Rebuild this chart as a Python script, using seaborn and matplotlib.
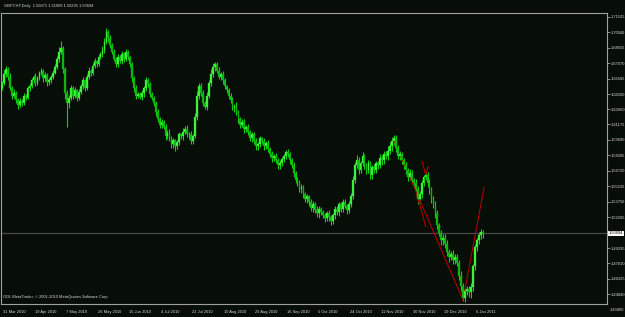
import matplotlib
matplotlib.use("Agg")
import matplotlib.pyplot as plt
import matplotlib.transforms as mtransforms
import numpy as np
import pandas as pd
import seaborn as sns

# ---------------- data ----------------
symbol_title = "GBPCHF,Daily  1.50871 1.51009 1.50295 1.50694"
copyright_text = "ODL MetaTrader, \u00a9 2001-2010 MetaQuotes Software Corp."

first_open = 1.6470
closes = [
    1.6513, 1.6606, 1.6652, 1.6578, 1.6467,
    1.6393, 1.6420, 1.6356, 1.6309, 1.6346,
    1.6328, 1.6393, 1.6374, 1.6467, 1.6485,
    1.6541, 1.6578, 1.6513, 1.6560, 1.6615,
    1.6633, 1.6560, 1.6596, 1.6522, 1.6541,
    1.6578, 1.6615, 1.6670, 1.6745, 1.6819,
    1.6856, 1.6652, 1.6420, 1.6328, 1.6374,
    1.6467, 1.6393, 1.6448, 1.6374, 1.6430,
    1.6485, 1.6541, 1.6467, 1.6578, 1.6633,
    1.6615, 1.6680, 1.6726, 1.6698, 1.6763,
    1.6791, 1.6837, 1.6911, 1.7004, 1.6949,
    1.6884, 1.6819, 1.6745, 1.6698, 1.6763,
    1.6726, 1.6791, 1.6745, 1.6810, 1.6763,
    1.6698, 1.6560, 1.6467, 1.6393, 1.6411,
    1.6383, 1.6420, 1.6467, 1.6541, 1.6504,
    1.6411, 1.6374, 1.6328, 1.6235, 1.6170,
    1.6114, 1.6142, 1.6096, 1.6004, 1.6040,
    1.5985, 1.5929, 1.5966, 1.5911, 1.5948,
    1.6022, 1.6004, 1.6050, 1.6077, 1.6022,
    1.6022, 1.5957, 1.6004, 1.6189, 1.6393,
    1.6485, 1.6420, 1.6328, 1.6282, 1.6393,
    1.6513, 1.6606, 1.6670, 1.6698, 1.6633,
    1.6578, 1.6606, 1.6541, 1.6485, 1.6448,
    1.6393, 1.6356, 1.6282, 1.6300, 1.6235,
    1.6170, 1.6114, 1.6142, 1.6077, 1.6096,
    1.6050, 1.5985, 1.6022, 1.5957, 1.5911,
    1.5929, 1.5985, 1.5957, 1.5911, 1.5939,
    1.5883, 1.5837, 1.5800, 1.5818, 1.5772,
    1.5726, 1.5744, 1.5781, 1.5818, 1.5855,
    1.5837, 1.5772, 1.5726, 1.5651, 1.5586,
    1.5558, 1.5494, 1.5521, 1.5448, 1.5401,
    1.5429, 1.5373, 1.5317, 1.5355, 1.5299,
    1.5262, 1.5308, 1.5280, 1.5243, 1.5215,
    1.5262, 1.5225, 1.5188, 1.5243, 1.5308,
    1.5280, 1.5355, 1.5308, 1.5373, 1.5336,
    1.5299, 1.5355, 1.5429, 1.5586, 1.5726,
    1.5772, 1.5679, 1.5744, 1.5818, 1.5726,
    1.5679, 1.5744, 1.5633, 1.5707, 1.5679,
    1.5744, 1.5726, 1.5800, 1.5772, 1.5837,
    1.5818, 1.5864, 1.5911, 1.5957, 1.5985,
    1.5892, 1.5818, 1.5837, 1.5772, 1.5726,
    1.5679, 1.5614, 1.5651, 1.5586, 1.5558,
    1.5494, 1.5401, 1.5448, 1.5558, 1.5614,
    1.5633, 1.5558, 1.5494, 1.5401, 1.5355,
    1.5262, 1.5150, 1.5077, 1.5002, 1.5030,
    1.4965, 1.4892, 1.4846, 1.4873, 1.4818,
    1.4846, 1.4781, 1.4660, 1.4566, 1.4446,
    1.4521, 1.4539, 1.4502, 1.4557, 1.4752,
    1.4937, 1.5002, 1.5050, 1.50871, 1.50694,
]

upper_wick_pips = [
    20, 35, 25, 15, 30, 25, 40, 15, 20, 30, 15, 30, 20, 25, 35,
    20, 15, 30, 25, 20, 30, 20, 25, 15, 25, 20, 30, 25, 35, 40,
    60, 20, 15, 25, 30, 35, 20, 30, 15, 25, 20, 30, 15, 25, 35,
    20, 25, 30, 15, 30, 25, 35, 40, 45, 20, 30, 15, 25, 20, 30,
    25, 30, 20, 35, 25, 15, 20, 25, 30, 20, 20, 30, 25, 35, 20,
    25, 20, 15, 20, 30, 20, 25, 15, 30, 20, 30, 20, 25, 15, 25,
    20, 15, 30, 25, 35, 25, 30, 20, 40, 50, 35, 30, 25, 20, 40,
    30, 45, 40, 25, 20, 35, 20, 30, 25, 15, 20, 30, 25, 15, 30,
    25, 20, 30, 25, 20, 30, 15, 25, 20, 30, 20, 25, 15, 30, 20,
    25, 20, 30, 15, 25, 20, 30, 25, 20, 15, 30, 20, 25, 30, 20,
    25, 30, 20, 15, 25, 20, 15, 30, 25, 20, 30, 25, 20, 15, 25,
    20, 30, 25, 20, 30, 25, 20, 15, 30, 25, 20, 25, 30, 40, 35,
    50, 30, 25, 35, 20, 25, 30, 20, 25, 35, 20, 25, 30, 20, 25,
    30, 45, 35, 40, 30, 35, 25, 30, 20, 25, 30, 20, 35, 25, 20,
    40, 35, 30, 25, 20, 30, 25, 35, 20, 25, 25, 30, 20, 25, 30,
    35, 40, 30, 25, 40, 30, 25, 35, 45, 30, 20, 25, 30, 35, 25,
    30, 20, 35, 25, 14,
]

lower_wick_pips = [
    25, 20, 30, 35, 20, 30, 25, 35, 40, 25, 30, 20, 25, 15, 30,
    20, 25, 30, 20, 15, 25, 30, 20, 35, 25, 20, 25, 15, 20, 25,
    20, 40, 60, 230, 50, 25, 30, 20, 35, 25, 20, 25, 30, 20, 25,
    30, 20, 15, 25, 20, 20, 25, 30, 20, 35, 30, 25, 20, 30, 25,
    20, 30, 25, 20, 25, 30, 35, 40, 30, 25, 25, 30, 35, 25, 30,
    30, 25, 35, 40, 30, 35, 30, 25, 40, 30, 30, 35, 40, 45, 25,
    30, 25, 35, 20, 25, 40, 30, 25, 20, 25, 30, 25, 35, 20, 25,
    20, 25, 30, 35, 20, 25, 30, 35, 25, 30, 30, 35, 25, 40, 30,
    35, 30, 25, 40, 35, 30, 25, 35, 30, 40, 35, 30, 25, 40, 30,
    30, 35, 40, 30, 25, 35, 40, 30, 25, 35, 30, 35, 25, 40, 30,
    35, 30, 40, 35, 25, 40, 35, 30, 45, 30, 35, 40, 30, 25, 35,
    30, 35, 40, 30, 35, 30, 40, 35, 30, 25, 40, 30, 35, 25, 30,
    30, 35, 25, 30, 40, 35, 30, 40, 35, 30, 30, 35, 25, 40, 30,
    35, 40, 30, 45, 35, 40, 35, 45, 30, 40, 35, 40, 30, 45, 35,
    40, 45, 35, 40, 30, 35, 40, 45, 35, 40, 40, 35, 30, 45, 40,
    35, 40, 50, 35, 45, 40, 20, 35, 45, 30, 35, 40, 45, 50, 40,
    35, 40, 30, 35, 40,
]

date_labels = ["31 Mar 2010", "19 Apr 2010", "7 May 2010", "26 May 2010",
               "15 Jun 2010", "4 Jul 2010", "22 Jul 2010", "10 Aug 2010",
               "29 Aug 2010", "16 Sep 2010", "5 Oct 2010", "24 Oct 2010",
               "11 Nov 2010", "30 Nov 2010", "19 Dec 2010", "6 Jan 2011"]
date_bar_index = [0, 16, 32, 48, 64, 80, 96, 112, 128, 144, 160, 176,
                  192, 208, 224, 240]

price_ticks = [1.71525, 1.70040, 1.68555, 1.67070, 1.65585, 1.64100,
               1.62660, 1.61175, 1.59690, 1.58205, 1.56720, 1.55235,
               1.53750, 1.52265, 1.49295, 1.47810, 1.46325, 1.44840]
bottom_price_label = "1.43400"
current_price = 1.50694

# hand-drawn red objects on the chart (bar index, price)
line1_bar = [198.5, 234.0]
line1_price = [1.5985, 1.4430]
line2_bar = [234.0, 244.7]
line2_price = [1.4430, 1.5512]
line3_bar = [213.2, 215.1, 216.4]
line3_price = [1.5763, 1.5633, 1.5716]
line4_bar = [210.2, 212.2, 215.1]
line4_price = [1.5448, 1.5336, 1.5133]

# ---------------- build table ----------------
opens = [first_open] + closes[:-1]
df = pd.DataFrame({"open": opens, "close": closes,
                   "up": upper_wick_pips, "dn": lower_wick_pips})
df["bar"] = np.arange(len(df), dtype=float)
df["high"] = df[["open", "close"]].max(axis=1) + df["up"] / 10000.0
df["low"] = df[["open", "close"]].min(axis=1) - df["dn"] / 10000.0
df["bull"] = df["close"] >= df["open"]
df["body_bottom"] = df[["open", "close"]].min(axis=1)
df["body_h"] = (df["close"] - df["open"]).abs().clip(lower=0.00025)

# ---------------- style ----------------
BG = "#070d07"
FG = "#d8d8d8"
BORDER = "#a0a0a0"
UP_BODY = "#3cf03c"
DN_BODY = "#10b410"
WICK = "#10d010"
sns.set_theme(style="dark", rc={
    "axes.facecolor": BG, "figure.facecolor": BG,
    "axes.edgecolor": BORDER, "axes.grid": False,
    "xtick.color": BORDER, "ytick.color": BORDER,
    "text.color": FG,
    "patch.force_edgecolor": False, "patch.edgecolor": "none",
})
plt.rcParams["font.family"] = ["Liberation Sans", "DejaVu Sans"]
FS = 2.9

W, H = 625, 317
fig = plt.figure(figsize=(W / 100, H / 100), dpi=100)
ax = fig.add_axes([1 / W, 13 / H, 606 / W, 291 / H])
ax.set_facecolor(BG)

ax.set_xlim(-0.5, 307.1)
ax.set_ylim(1.43912, 1.71896)

# current price line
ax.axhline(current_price, color="#4a4a4a", lw=0.9, zorder=0.5)

# candles: wicks
xb = df["bar"].to_numpy()
ax.vlines(xb, df["low"].to_numpy(), df["high"].to_numpy(),
          colors=[WICK] * len(df), linewidths=0.8, zorder=2)

# red drawn objects (between wicks and bodies)
for bx, py in [(line1_bar, line1_price), (line2_bar, line2_price),
               (line3_bar, line3_price), (line4_bar, line4_price)]:
    sns.lineplot(x=bx, y=py, ax=ax, color="#b00000", lw=0.8,
                 sort=False, estimator=None, zorder=2.5, legend=False)

# candles: bodies
body_colors = [UP_BODY if b else DN_BODY for b in df["bull"]]
ax.bar(xb, df["body_h"].to_numpy(), bottom=df["body_bottom"].to_numpy(),
       width=0.9, color=body_colors, edgecolor=body_colors, linewidth=0.2,
       zorder=3)

# axes decoration
for s in ax.spines.values():
    s.set_color(BORDER)
    s.set_linewidth(0.8)
    s.set_visible(True)

ax.yaxis.tick_right()
ax.set_yticks(price_ticks)
ax.set_yticklabels([f"{v:.5f}" for v in price_ticks])
ax.tick_params(axis="y", which="both", direction="out", length=2, width=0.6,
               pad=1.0, labelsize=FS, labelcolor=FG, colors=BORDER)

ax.set_xticks([b - 0.5 for b in date_bar_index])
ax.set_xticklabels(date_labels)
ax.tick_params(axis="x", which="both", direction="out", length=4, width=0.6,
               pad=0.3, labelsize=FS, labelcolor=FG, colors=BORDER)
offset = mtransforms.ScaledTranslation(2 / 100, 0.0, fig.dpi_scale_trans)
for lab in ax.get_xticklabels():
    lab.set_horizontalalignment("left")
    lab.set_transform(lab.get_transform() + offset)

# current price label box
trans_y = mtransforms.blended_transform_factory(ax.transAxes, ax.transData)
ax.text(1.003, current_price, f"{current_price:.5f}", transform=trans_y,
        ha="left", va="center", fontsize=FS, color="black",
        bbox=dict(boxstyle="square,pad=0.12", fc="white", ec="white", lw=0),
        clip_on=False, zorder=10)
ax.text(1.0045, 1.43356, bottom_price_label, transform=trans_y,
        ha="left", va="center", fontsize=FS, color=FG, clip_on=False)

# header and copyright
fig.text(4 / W, 1 - 6.5 / H, symbol_title, fontsize=FS, color=FG,
         ha="left", va="center")
ax.text(0.004, 0.025, copyright_text, transform=ax.transAxes,
        fontsize=FS, color=FG, ha="left", va="center")

fig.savefig("out.png", dpi=100, facecolor=BG)
